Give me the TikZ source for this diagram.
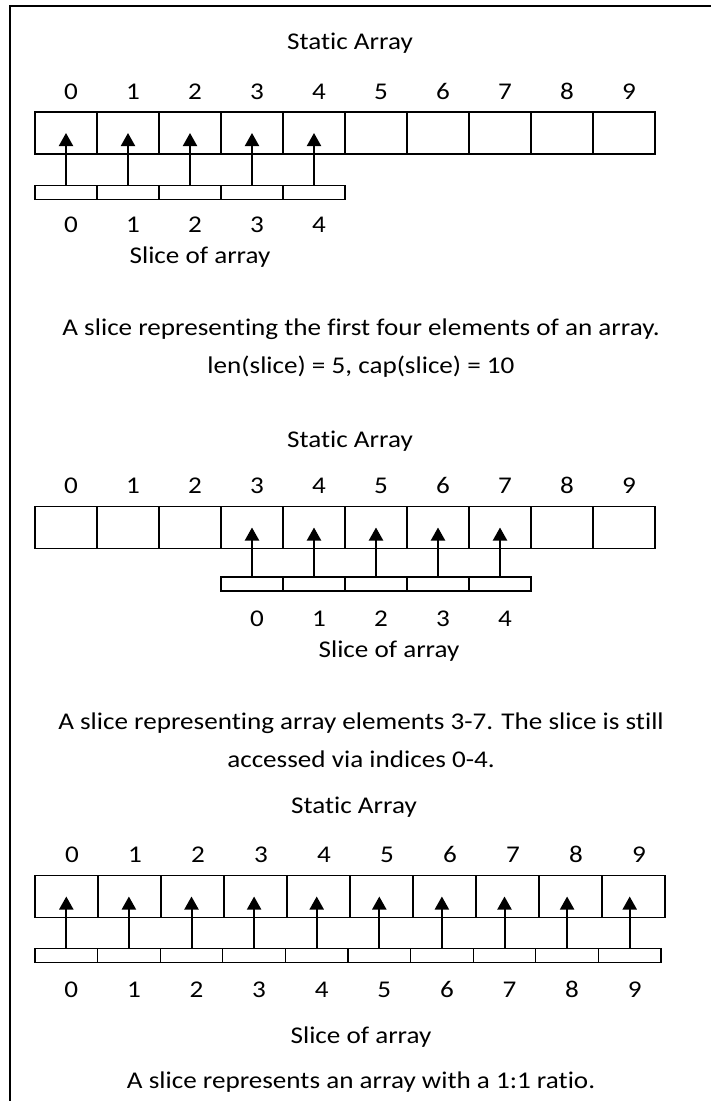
\documentclass[tikz,border=0pt]{standalone}
\usepackage{fontspec}
\setmainfont{Carlito}[Ligatures=CommonOff,FakeStretch=1.13]
\usetikzlibrary{arrows.meta,positioning}

\begin{document}
\begin{tikzpicture}[
  x=1pt,y=-1pt,
  every node/.style={font=\fontsize{24}{28}\selectfont,inner sep=0pt,outer sep=0pt},
  cell/.style={draw,line width=1.3pt,minimum width=#1,minimum height=42pt},
  cell/.default=62pt,
  scell/.style={draw,line width=1.3pt,minimum width=#1,minimum height=14pt},
  scell/.default=62pt,
  lbl/.style={anchor=base},
  arr/.style={-{Triangle[length=13pt,width=14pt]},line width=2pt},
  frame/.style={line width=2pt}
]
\useasboundingbox (0,0) rectangle (711,1101);
\coordinate (fb) at (10,1101);
\coordinate (fc) at (10,6);
\coordinate (fr) at (711,6);
\draw[frame] (fb) -- (fc) -- (fr);

% slice over elements 0-4
\node[lbl] (t1) at (350,49) {Static Array};
\foreach \i in {0,...,9}{
  \node[cell] (a1-\i) at (66+62*\i,133) {};
  \node[lbl] (n1-\i) at (71+62*\i,99) {\i};
}
\foreach \i in {0,...,4}{
  \node[scell] (s1-\i) at (66+62*\i,192.5) {};
  \node[lbl] (m1-\i) at (71+62*\i,232) {\i};
  \draw[arr] (s1-\i.north) -- (a1-\i.center);
}
\node[lbl] (c1) at (200,263) {Slice of array};
\node[lbl] (d1) at (361,335) {A slice representing the first four elements of an array.};
\node[lbl] (e1) at (361,373) {len(slice) = 5, cap(slice) = 10};

% slice over elements 3-7
\node[lbl] (t2) at (350,447) {Static Array};
\foreach \i in {0,...,9}{
  \node[cell] (a2-\i) at (66+62*\i,527.5) {};
  \node[lbl] (n2-\i) at (71+62*\i,493) {\i};
}
\foreach \k [count=\j from 0] in {3,...,7}{
  \node[scell] (s2-\j) at (66+62*\k,584) {};
  \node[lbl] (m2-\j) at (71+62*\k,626) {\j};
  \draw[arr] (s2-\j.north) -- (a2-\k.center);
}
\node[lbl] (c2) at (389,657) {Slice of array};
\node[lbl] (d2) at (361,729) {A slice representing array elements 3-7. The slice is still};
\node[lbl] (e2) at (361,767) {accessed via indices 0-4.};

% slice over the whole array
\node[lbl] (t3) at (354,813) {Static Array};
\foreach \i in {0,...,9}{
  \node[cell=63pt] (a3-\i) at (66.5+63*\i,896.5) {};
  \node[lbl] (n3-\i) at (72+63*\i,862) {\i};
  \node[scell=62.6pt] (s3-\i) at (66.3+62.6*\i,955.5) {};
  \node[lbl] (m3-\i) at (71.3+62.6*\i,997) {\i};
  \draw[arr] (s3-\i.north) -- (s3-\i.north |- a3-\i.center);
}
\node[lbl] (c3) at (361,1043) {Slice of array};
\node[lbl] (d3) at (361,1088) {A slice represents an array with a 1:1 ratio.};
\end{tikzpicture}
\end{document}
